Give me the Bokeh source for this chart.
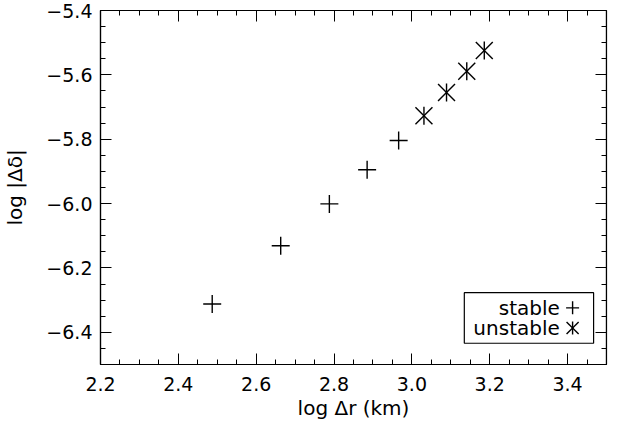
import numpy as np
from bokeh.plotting import figure
from bokeh.models import LinearAxis, FixedTicker, CustomJSTickFormatter, Range1d
from bokeh.core.properties import value
from bokeh.embed import file_html
from bokeh.resources import INLINE

# ---- data ----
stable_x = [2.487, 2.663, 2.788, 2.885, 2.966]
stable_y = [-6.312, -6.131, -6.001, -5.895, -5.804]
unstable_x = [3.031, 3.089, 3.141, 3.186]
unstable_y = [-5.727, -5.655, -5.589, -5.524]

x_major = [2.2, 2.4, 2.6, 2.8, 3.0, 3.2, 3.4]
y_major = [-6.4, -6.2, -6.0, -5.8, -5.6, -5.4]
x_minor = [round(v, 2) for v in np.arange(2.2, 3.5001, 0.05)]
y_minor = [round(v, 2) for v in np.arange(-6.5, -5.3999, 0.05)]

x_label = "log \u0394r (km)"
y_label = "log |\u0394\u03b4|"
legend_labels = ["stable", "unstable"]

FONT = "DejaVu Sans"
X0, X1 = 2.2, 3.5
Y0, Y1 = -6.5, -5.4

p = figure(width=608, height=424,
           x_range=Range1d(X0, X1), y_range=Range1d(Y0, Y1),
           output_backend="svg", toolbar_location=None,
           min_border_left=88, min_border_right=2, min_border_top=10,
           min_border_bottom=60)
p.grid.visible = False
p.outline_line_color = "black"
p.outline_line_width = 1.2
p.background_fill_color = "white"
p.border_fill_color = "white"

fmt = CustomJSTickFormatter(code="return tick.toFixed(1).replace('-', '\u2212');")
blank = CustomJSTickFormatter(code="return '';")


def style_axis(ax, ticks, minor, labels=True):
    ax.ticker = FixedTicker(ticks=ticks, minor_ticks=minor)
    ax.axis_line_color = "black"
    ax.axis_line_width = 1.2
    ax.major_tick_line_color = "black"
    ax.minor_tick_line_color = "black"
    ax.major_tick_in = 11
    ax.major_tick_out = 0
    ax.minor_tick_in = 5
    ax.minor_tick_out = 0
    ax.major_tick_line_width = 1
    ax.minor_tick_line_width = 1
    if labels:
        ax.formatter = fmt
        ax.major_label_text_font = FONT
        ax.major_label_text_font_size = "19px"
        ax.major_label_text_color = "black"
        ax.axis_label_text_font = FONT
        ax.axis_label_text_font_size = "20px"
        ax.axis_label_text_font_style = "normal"
        ax.axis_label_text_color = "black"
    else:
        ax.formatter = blank
        ax.major_label_text_font_size = "0px"
        ax.major_label_standoff = 0


xa = p.xaxis[0]
ya = p.yaxis[0]
style_axis(xa, x_major, x_minor)
style_axis(ya, y_major, y_minor)
xa.axis_label = x_label
ya.axis_label = y_label
xa.major_label_standoff = 12
xa.axis_label_standoff = 2
ya.major_label_standoff = 8
ya.axis_label_standoff = 16

top = LinearAxis(fixed_location=Y1)
right = LinearAxis(fixed_location=X1)
style_axis(top, x_major, x_minor, labels=False)
style_axis(right, y_major, y_minor, labels=False)
p.add_layout(top, "above")
p.add_layout(right, "right")

# ---- data markers ----
p.scatter(stable_x, stable_y, marker="cross", size=18,
          line_color="black", line_width=1.4)
p.scatter(unstable_x, unstable_y, marker="dash", size=18, angle=np.pi / 2,
          line_color="black", line_width=1.4)
p.scatter(unstable_x, unstable_y, marker="dash", size=24, angle=np.pi / 4,
          line_color="black", line_width=1.4)
p.scatter(unstable_x, unstable_y, marker="dash", size=24, angle=-np.pi / 4,
          line_color="black", line_width=1.4)

# ---- legend (drawn in frame-fraction coordinates) ----
p.extra_x_ranges = {"fx": Range1d(0, 1)}
p.extra_y_ranges = {"fy": Range1d(0, 1)}
p.quad(left=[0.719], right=[0.9745], bottom=[0.06], top=[0.203],
       x_range_name="fx", y_range_name="fy",
       fill_color="white", line_color="black", line_width=1.2)
p.text(x=[0.9077, 0.9077], y=[0.16, 0.103], text=legend_labels,
       x_range_name="fx", y_range_name="fy",
       text_align="right", text_baseline="middle",
       text_font=value(FONT), text_font_size="20px", text_color="black")
p.scatter([0.933], [0.16], marker="cross", size=13,
          x_range_name="fx", y_range_name="fy",
          line_color="black", line_width=1.4)
for sz, ang in ((13, np.pi / 2), (17, np.pi / 4), (17, -np.pi / 4)):
    p.scatter([0.933], [0.103], marker="dash", size=sz, angle=ang,
              x_range_name="fx", y_range_name="fy",
              line_color="black", line_width=1.4)

open("out.html", "w").write(file_html(p, INLINE))
